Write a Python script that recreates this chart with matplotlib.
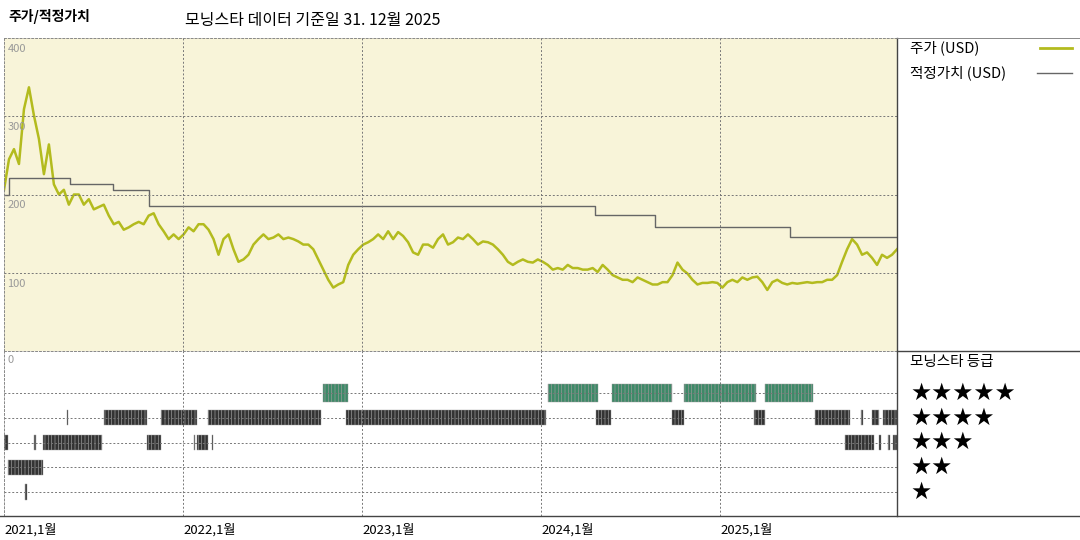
import numpy as np
import matplotlib.pyplot as plt
from matplotlib.lines import Line2D

plt.rcParams['font.family'] = ['Noto Sans CJK KR', 'DejaVu Sans']
plt.rcParams['hatch.linewidth'] = 0.5

price = [206, 245, 258, 239, 309, 337, 301, 271, 226, 264,
         213, 200, 206, 187, 200, 200, 187, 194, 181, 184, 187, 173, 162, 165, 155, 158, 162, 165, 162, 173,
         176, 162, 153, 143, 149, 143, 149, 158, 153, 162, 162, 155, 143, 123, 143, 149, 130, 114, 117, 123,
         136, 143, 149, 143, 145, 149, 143, 145, 143, 140, 136, 136, 130, 117, 104, 91, 81, 85, 88, 110,
         123, 130, 136, 139, 143, 149, 143, 153, 143, 152, 147, 139, 126, 123, 136, 136, 132, 143, 149, 136,
         139, 145, 143, 149, 143, 136, 140, 139, 136, 130, 123, 114, 110, 114, 117, 114, 113, 117, 114, 110,
         104, 106, 104, 110, 106, 106, 104, 104, 106, 101, 110, 104, 97, 94, 91, 91, 88, 94, 91, 88,
         85, 85, 88, 88, 97, 113, 104, 99, 91, 85, 87, 87, 88, 87, 81, 88, 91, 88, 94, 91,
         94, 95, 88, 78, 88, 91, 87, 85, 87, 86, 87, 88, 87, 88, 88, 91, 91, 97, 114, 130,
         143, 136, 123, 126, 119, 110, 123, 119, 123, 130]
start, end = 2021.0, 2025.99

fair_years = [2021.0, 2021.03, 2021.37, 2021.61, 2021.81, 2024.30, 2024.64, 2025.39, 2025.99]
fair_values = [200, 221, 214, 206, 185, 174, 158, 146, 146]

ratings = {
    5: [(2022.78, 2022.92), (2024.04, 2024.32), (2024.40, 2024.73), (2024.80, 2025.20), (2025.25, 2025.52)],
    4: [(2021.35, 2021.36), (2021.56, 2021.80), (2021.88, 2022.08), (2022.14, 2022.77), (2022.91, 2024.03),
        (2024.31, 2024.39), (2024.73, 2024.80), (2025.19, 2025.25), (2025.53, 2025.73), (2025.79, 2025.80),
        (2025.85, 2025.89), (2025.91, 2025.99)],
    3: [(2021.0, 2021.02), (2021.17, 2021.18), (2021.22, 2021.55), (2021.80, 2021.88), (2022.06, 2022.07),
        (2022.08, 2022.14), (2022.16, 2022.17), (2025.70, 2025.86), (2025.89, 2025.90), (2025.94, 2025.95),
        (2025.97, 2025.99)],
    2: [(2021.02, 2021.22)],
    1: [(2021.12, 2021.13)],
}
year_labels = ['2021,1월', '2022,1월', '2023,1월', '2024,1월', '2025,1월']
years = [2021, 2022, 2023, 2024, 2025]

W, H = 1080, 540
fig = plt.figure(figsize=(10.8, 5.4), dpi=100)

def box(x0, y0, x1, y1):
    return [x0 / W, 1 - y1 / H, (x1 - x0) / W, (y1 - y0) / H]

olive = '#b3bb1e'
grid_kw = dict(color='#777777', linestyle=(0, (2, 2)), linewidth=0.7)

ax = fig.add_axes(box(4, 38, 897, 351))
ax.set_facecolor('#f8f4d9')
x = np.linspace(start, end, len(price))
ax.plot(x, price, color=olive, linewidth=1.8)
ax.step(fair_years, fair_values, where='post', color='#666666', linewidth=1)
ax.set_xlim(start, end)
ax.set_ylim(0, 400)
for yv in [100, 200, 300]:
    ax.axhline(yv, **grid_kw)
for yr in years[1:]:
    ax.axvline(yr, **grid_kw)
for yv in [100, 200, 300, 400]:
    ax.text(0.004, yv - 14, str(yv), transform=ax.get_yaxis_transform(),
            fontsize=8, color='#999999', va='center')
ax.set_xticks([]); ax.set_yticks([])
for s in ax.spines.values():
    s.set_color('#888888'); s.set_linestyle((0, (2, 2))); s.set_linewidth(0.7)

ax2 = fig.add_axes(box(4, 351, 897, 516))
ax2.set_xlim(start, end)
ax2.set_ylim(0.03, 6.70)
for r in range(1, 6):
    ax2.axhline(r, **grid_kw)
for yr in years[1:]:
    ax2.axvline(yr, **grid_kw)
for stars, segs in ratings.items():
    col = '#3d8a68' if stars == 5 else '#333333'
    h = 0.7 if stars == 5 else 0.62
    ax2.broken_barh([(a, max(b - a, 0.006)) for a, b in segs], (stars - h / 2, h),
                    facecolors=col, edgecolors='#999999', linewidth=0.3, hatch='|||||')
ax2.text(0.004, 6.35, '0', fontsize=8, color='#999999', va='center',
         transform=ax2.get_yaxis_transform())
ax2.set_xticks([]); ax2.set_yticks([])
for s in ax2.spines.values():
    s.set_color('#888888'); s.set_linestyle((0, (2, 2))); s.set_linewidth(0.7)
ax2.spines['bottom'].set_linestyle('-'); ax2.spines['bottom'].set_color('#444444')
for yr, lab in zip(years, year_labels):
    ax2.text(yr + 0.005, -0.25, lab, fontsize=9.5, va='top', ha='left', clip_on=False)

# right panel frame
def fl(x0, y0, x1, y1, c='#444444', lw=1):
    fig.add_artist(Line2D([x0 / W, x1 / W], [1 - y0 / H, 1 - y1 / H], color=c, linewidth=lw))
fl(897, 38, 897, 516)
fl(897, 351, 1080, 351)
fl(0, 516, 1080, 516)
fl(897, 38, 1080, 38, c='#888888', lw=0.7)

fig.text(8 / W, 1 - 17 / H, '주가/적정가치', fontsize=10, fontweight='bold', va='center')
fig.text(185 / W, 1 - 20 / H, '모닝스타 데이터 기준일 31. 12월 2025', fontsize=11.5, va='center')

fig.text(910 / W, 1 - 48 / H, '주가 (USD)', fontsize=10.5, va='center')
fl(1040, 48, 1072, 48, c=olive, lw=2)
fig.text(910 / W, 1 - 73 / H, '적정가치 (USD)', fontsize=10.5, va='center')
fl(1037, 73, 1072, 73, c='#666666', lw=1)

fig.text(910 / W, 1 - 362 / H, '모닝스타 등급', fontsize=10.5, va='center')
for r, yp in zip(range(5, 0, -1), [393, 418, 442, 467, 492]):
    fig.text(910 / W, 1 - yp / H, '★' * r, fontsize=17, va='center', family=['DejaVu Sans'])

fig.savefig('out.png', dpi=100)
